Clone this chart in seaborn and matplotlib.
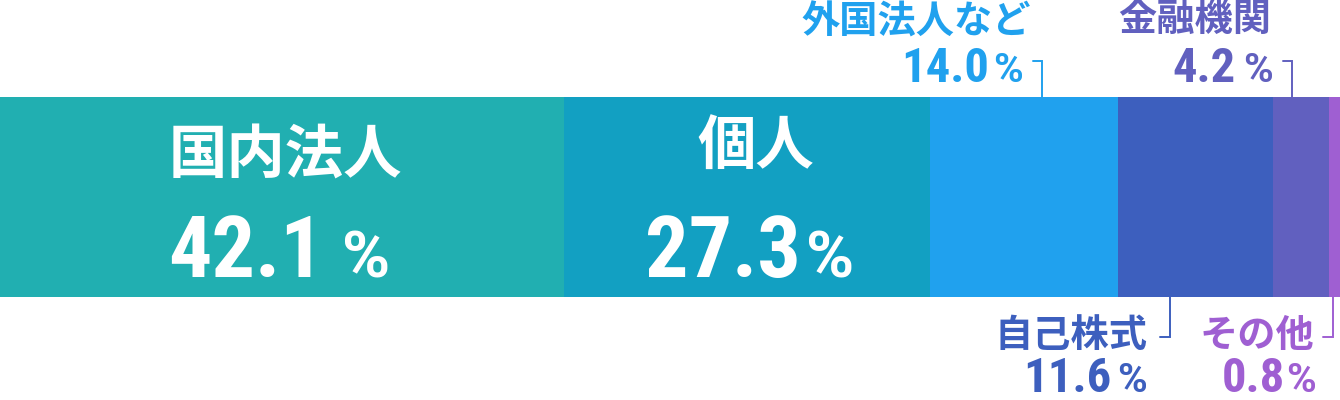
import matplotlib
matplotlib.use("Agg")
import matplotlib.pyplot as plt
import seaborn as sns
import numpy as np

# 株主構成（%）
categories = ['国内法人', '個人', '外国法人など', '自己株式', '金融機関', 'その他']
shares = [42.1, 27.3, 14.0, 11.6, 4.2, 0.8]
share_labels = ['42.1', '27.3', '14.0', '11.6', '4.2', '0.8']
colors = ['#21afb1', '#12a0c2', '#20a1ee', '#3d5fbe', '#6160bf', '#9f5fd2']

sns.set_style('white')
JP = ['Noto Sans CJK JP', 'DejaVu Sans']
NUM = ['Roboto Condensed', 'DejaVu Sans', 'Noto Sans', 'Roboto']
PCT = ['Roboto', 'DejaVu Sans']

W, H = 1340, 400
fig = plt.figure(figsize=(13.4, 4), dpi=100)
ax = fig.add_axes([0, 0, 1, 1])

# 積み上げ棒：累積値を大きい順に重ねて描く
cum = np.cumsum(shares)
for i in reversed(range(len(shares))):
    sns.barplot(x=[cum[i]], y=['株主'], color=colors[i], saturation=1,
                width=1, orient='h', linewidth=0, errorbar=None, ax=ax)
ax.set_xlim(0, 100)
ax.set_ylim(1.015, -0.985)
ax.axis('off')


def px(x, y):
    return x / W, 1 - y / H


def name_text(x, y, s, size, color, ha='center'):
    ax.text(*px(x, y), s, ha=ha, va='center', fontsize=size, fontweight='bold',
            family=JP, color=color, transform=ax.transAxes)


def pct_text(x_num, x_pct, y, s, size, psize, color):
    ax.text(*px(x_num, y), s, ha='right', va='baseline', fontsize=size,
            fontweight='bold', fontstretch='condensed', family=NUM,
            color=color, transform=ax.transAxes)
    ax.text(*px(x_pct, y), '%', ha='left', va='baseline', fontsize=psize,
            fontweight='bold', family=PCT, color=color,
            transform=ax.transAxes)


def leader(pts, color):
    xs = [p[0] / W for p in pts]
    ys = [1 - p[1] / H for p in pts]
    ax.plot(xs, ys, color=color, lw=1.4, transform=ax.transAxes,
            solid_joinstyle='miter')


# 棒の中のラベル
name_text(285, 157, categories[0], 42, 'white')
pct_text(324, 342, 277, share_labels[0], 62, 47, 'white')
name_text(756, 147, categories[1], 42, 'white')
pct_text(801, 806, 277, share_labels[1], 62, 47, 'white')

# 上側のラベル
name_text(1031, 22, categories[2], 27.5, colors[2], ha='right')
pct_text(989, 993, 82, share_labels[2], 35, 29, colors[2])
leader([(1033, 61), (1042, 61), (1042, 97)], colors[2])

name_text(1271, 19, categories[4], 27.5, colors[4], ha='right')
pct_text(1236, 1243, 82, share_labels[4], 35, 29, colors[4])
leader([(1283, 61), (1292, 61), (1292, 97)], colors[4])

# 下側のラベル
name_text(1148, 336, categories[3], 27.5, colors[3], ha='right')
pct_text(1111, 1117, 392, share_labels[3], 35, 29, colors[3])
leader([(1170, 297), (1170, 337), (1160, 337)], colors[3])

name_text(1314, 336, categories[5], 27.5, colors[5], ha='right')
pct_text(1285, 1286, 392, share_labels[5], 35, 29, colors[5])
leader([(1333, 297), (1333, 337), (1323, 337)], colors[5])

fig.savefig('out.png', dpi=100)
